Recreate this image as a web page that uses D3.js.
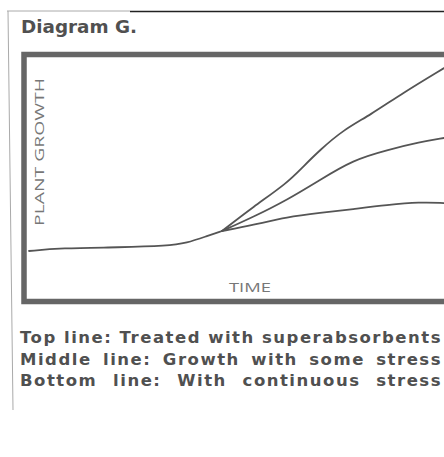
<!DOCTYPE html>
<html>
<head>
<meta charset="utf-8">
<script src="https://cdn.jsdelivr.net/npm/d3@7"></script>
<style>
  body { margin: 0; background: #fff; }
  svg { display: block; }
</style>
</head>
<body>
<div id="chart"></div>
<script>
// shared early growth, then three branches from the split point
var baseTime   = [0, 0.75, 2.19, 3.33, 3.8, 4.29, 4.65];
var baseGrowth = [1.95, 2.07, 2.1, 2.16, 2.28, 2.57, 2.78];

var topTime   = [4.65, 5.4, 6.22, 6.6, 7.01, 7.57, 8.22, 9.01, 10];
var topGrowth = [2.78, 3.78, 4.77, 5.44, 6.14, 6.97, 7.59, 8.51, 9.54];

var midTime   = [4.65, 5.4, 6.22, 7.01, 7.81, 8.63, 9.42, 10];
var midGrowth = [2.78, 3.36, 4.07, 4.9, 5.73, 6.14, 6.47, 6.64];

var lowTime   = [4.65, 5.4, 6.22, 7.01, 7.81, 8.63, 9.42, 10];
var lowGrowth = [2.78, 3.03, 3.36, 3.53, 3.69, 3.86, 3.98, 3.94];

var captions = [
  "Top line: Treated with superabsorbents",
  "Middle line: Growth with some stress",
  "Bottom line: With continuous stress"
];

let width = 444;
let height = 457;
let ink = "#555";
let captionWidth = 422;
let textFont = "'Open Sans', 'DejaVu Sans', sans-serif";
let captionFont = "'DejaVu Sans', sans-serif";

var svg = d3.select("#chart")
  .append("svg")
  .attr("width", width)
  .attr("height", height);

// thin outer box (scan edges)
svg.append("line")
  .attr("x1", 7).attr("y1", 11).attr("x2", 130).attr("y2", 11)
  .attr("stroke", "#aaa").attr("stroke-width", 1);
svg.append("line")
  .attr("x1", 130).attr("y1", 11.5).attr("x2", 444).attr("y2", 11.5)
  .attr("stroke", "#222").attr("stroke-width", 1.6);
svg.append("line")
  .attr("x1", 8).attr("y1", 11).attr("x2", 13).attr("y2", 410)
  .attr("stroke", "#aaa").attr("stroke-width", 1);

svg.append("text")
  .attr("x", 21).attr("y", 33)
  .attr("font-family", captionFont)
  .attr("font-weight", 700)
  .attr("font-size", 18)
  .attr("fill", "#505050")
  .attr("textLength", 116)
  .attr("lengthAdjust", "spacingAndGlyphs")
  .text("Diagram G.");

// thick frame
svg.append("rect")
  .attr("x", 24).attr("y", 54.5)
  .attr("width", 500).attr("height", 247)
  .attr("fill", "none")
  .attr("stroke", "#666")
  .attr("stroke-width", 5.5);

var x = d3.scaleLinear().domain([0, 10]).range([29, 444]);
var y = d3.scaleLinear().domain([0, 10]).range([298, 57]);

var line = d3.line()
  .x(d => x(d[0]))
  .y(d => y(d[1]))
  .curve(d3.curveBasis);

var series = [
  d3.zip(baseTime, baseGrowth),
  d3.zip(topTime, topGrowth),
  d3.zip(midTime, midGrowth),
  d3.zip(lowTime, lowGrowth)
];

svg.append("g")
  .selectAll("path")
  .data(series)
  .enter().append("path")
  .attr("d", line)
  .attr("fill", "none")
  .attr("stroke", ink)
  .attr("stroke-width", 1.8)
  .attr("stroke-linecap", "round");

// axis labels
svg.append("text")
  .attr("transform", "translate(44,226) rotate(-90)")
  .attr("font-family", textFont)
  .attr("font-size", 13)
  .attr("fill", "#777")
  .attr("textLength", 148)
  .attr("lengthAdjust", "spacingAndGlyphs")
  .text("PLANT GROWTH");

svg.append("text")
  .attr("x", 229).attr("y", 292)
  .attr("font-family", textFont)
  .attr("font-size", 13)
  .attr("fill", "#777")
  .attr("textLength", 42)
  .attr("lengthAdjust", "spacingAndGlyphs")
  .text("TIME");

// caption, justified: letter spacing from the first line, word gaps fill the rest
var cap = svg.append("g")
  .selectAll("text")
  .data(captions)
  .enter().append("text")
  .attr("x", 20)
  .attr("y", (d, i) => 343 + i * 21.5)
  .attr("font-family", captionFont)
  .attr("font-weight", 700)
  .attr("font-size", 16.5)
  .attr("fill", "#505050")
  .text(d => d);

var natural = [];
cap.each(function () { natural.push(this.getComputedTextLength()); });
var ls = (captionWidth - natural[0]) / captions[0].length;

cap.each(function (d, i) {
  var withLetters = natural[i] + ls * d.length;
  var gaps = d.split(" ").length - 1;
  var ws = Math.max(0, (captionWidth - withLetters) / gaps);
  d3.select(this)
    .attr("letter-spacing", ls)
    .attr("word-spacing", ws);
});
</script>
</body>
</html>
